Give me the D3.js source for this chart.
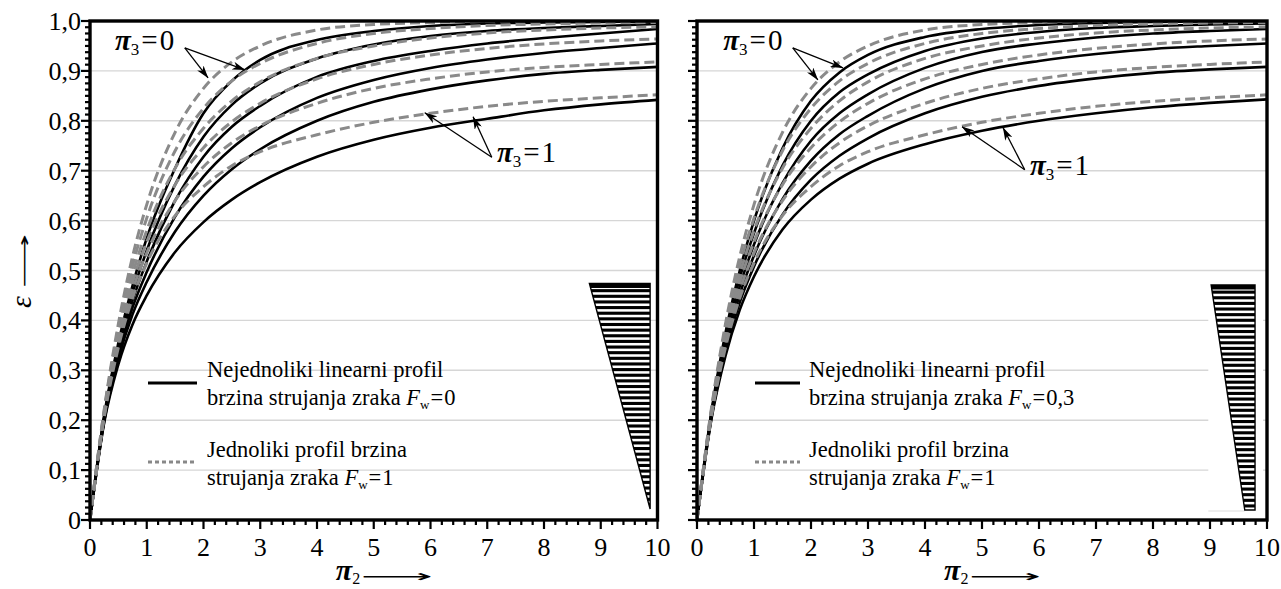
<!DOCTYPE html>
<html><head><meta charset="utf-8">
<script src="https://cdn.jsdelivr.net/npm/d3@7"></script>
<style>
body{margin:0;background:#fff}
svg{display:block}
</style>
</head><body>
<svg id="c" width="1281" height="589"></svg>
<script>
// ---------------- data ----------------
const pi2Grid = [0, 0.25, 0.5, 0.75, 1, 1.5, 2, 2.5, 3, 4, 5, 6, 7, 8, 9, 10];
const pi3Values = [0, 0.2, 0.4, 0.6, 0.8, 1];

// uniform velocity profile, F_w = 1 (gray dashed, same in both panels)
const uniformEps = [
  [0, .221, .393, .528, .632, .777, .865, .918, .950, .982, .993, .997, .999, 1.0, 1.0, 1.0],
  [0, .218, .383, .510, .605, .740, .825, .880, .915, .955, .975, .985, .991, .994, .996, .997],
  [0, .215, .373, .492, .580, .705, .785, .840, .878, .925, .950, .966, .976, .982, .986, .988],
  [0, .212, .364, .476, .557, .672, .746, .798, .835, .884, .913, .932, .945, .954, .960, .964],
  [0, .209, .355, .460, .535, .640, .708, .756, .790, .835, .865, .884, .898, .907, .913, .918],
  [0, .206, .346, .445, .515, .610, .668, .710, .738, .772, .797, .815, .829, .839, .846, .852]
];
// non-uniform linear profile, F_w = 0 (left panel, black solid)
const linearEpsFw0 = [
  [0, .210, .355, .470, .565, .705, .815, .880, .922, .962, .980, .990, .995, .997, .998, .999],
  [0, .207, .347, .455, .540, .672, .768, .832, .875, .925, .953, .970, .980, .986, .990, .994],
  [0, .204, .339, .440, .518, .640, .728, .788, .830, .888, .920, .940, .955, .966, .975, .984],
  [0, .201, .331, .426, .497, .608, .688, .745, .787, .846, .882, .906, .923, .936, .946, .955],
  [0, .198, .323, .412, .477, .578, .650, .703, .743, .800, .838, .863, .881, .894, .902, .908],
  [0, .195, .312, .392, .450, .537, .597, .642, .677, .728, .762, .786, .804, .821, .833, .842]
];
// non-uniform linear profile, F_w = 0,3 (right panel, black solid)
const linearEpsFw03 = [
  [0, .215, .375, .500, .600, .745, .840, .897, .932, .968, .984, .992, .996, .998, .999, .999],
  [0, .212, .365, .485, .575, .710, .800, .857, .893, .940, .965, .978, .986, .990, .993, .995],
  [0, .209, .356, .468, .552, .675, .760, .815, .853, .906, .938, .955, .967, .975, .980, .984],
  [0, .206, .347, .452, .530, .643, .720, .773, .810, .865, .900, .920, .934, .944, .950, .955],
  [0, .203, .338, .436, .508, .612, .682, .730, .765, .815, .848, .870, .885, .896, .903, .908],
  [0, .200, .329, .421, .488, .582, .642, .684, .714, .753, .780, .800, .815, .827, .836, .843]
];

const xTickValues = [0, 1, 2, 3, 4, 5, 6, 7, 8, 9, 10];
const xTickLabels = ["0", "1", "2", "3", "4", "5", "6", "7", "8", "9", "10"];
const yTickValues = [0, 0.1, 0.2, 0.3, 0.4, 0.5, 0.6, 0.7, 0.8, 0.9, 1.0];
const yTickLabels = ["0", "0,1", "0,2", "0,3", "0,4", "0,5", "0,6", "0,7", "0,8", "0,9", "1,0"];
const gridValues = [0.1, 0.2, 0.3, 0.4, 0.5, 0.6, 0.7, 0.8, 0.9];

const legendSolidText = "Nejednoliki linearni profil";
const legendSolidText2 = "brzina strujanja zraka ";
const legendDashText = "Jednoliki profil brzina";
const legendDashText2 = "strujanja zraka ";
const fwValues = ["0", "0,3"];

// velocity profile sketches (in data units: pi2, eps)
const profileLeft = [[8.80, 0.474], [9.87, 0.474], [9.87, 0.022]];
const profileRight = [[9.02, 0.471], [9.79, 0.471], [9.79, 0.020], [9.61, 0.020]];

// annotation anchors (data units)
const annotLeft = {
  p0: {label: [0.44, 0.942], start: [1.67, 0.946], tips: [[2.08, 0.886], [2.73, 0.902]]},
  p1: {label: [7.17, 0.717], start: [7.08, 0.727], tips: [[5.90, 0.816], [6.75, 0.808]]}
};
const annotRight = {
  p0: {label: [0.46, 0.942], start: [1.68, 0.946], tips: [[2.12, 0.882], [2.56, 0.906]]},
  p1: {label: [5.84, 0.691], start: [5.75, 0.702], tips: [[4.65, 0.788], [5.37, 0.786]]}
};

const SERIF = "'Liberation Serif', 'DejaVu Serif', serif";

// ---------------- drawing ----------------
const svg = d3.select("#c").attr("font-family", SERIF);
const defs = svg.append("defs");
defs.append("marker").attr("id", "ah").attr("viewBox", "0 0 13 8")
  .attr("refX", 12.5).attr("refY", 4).attr("markerWidth", 13).attr("markerHeight", 8)
  .attr("markerUnits", "userSpaceOnUse").attr("orient", "auto")
  .append("path").attr("d", "M0,0 L13,4 L0,8 L3.5,4 Z").attr("fill", "#000");

const yTop = 21, yBot = 520;
const y = d3.scaleLinear().domain([0, 1]).range([yBot, yTop]);

const panels = [
  {x0: 90, x1: 657.5, solid: linearEpsFw0, fw: fwValues[0], yLabels: true,
   legX0: 148, legX1: 197, legTextX: 207, profile: profileLeft, annot: annotLeft, gapRect: null},
  {x0: 697, x1: 1267, solid: linearEpsFw03, fw: fwValues[1], yLabels: false,
   legX0: 755, legX1: 800, legTextX: 809, profile: profileRight, annot: annotRight, gapRect: [8.97, 9.93]}
];

function serifText(sel) { return sel.attr("font-family", SERIF); }

panels.forEach((p, pi) => {
  const x = d3.scaleLinear().domain([0, 10]).range([p.x0, p.x1]);
  const g = svg.append("g");
  const clipId = "clip" + pi;
  defs.append("clipPath").attr("id", clipId).append("rect")
    .attr("x", p.x0).attr("y", yTop).attr("width", p.x1 - p.x0).attr("height", yBot - yTop);

  // grid
  g.selectAll(".grid").data(gridValues).join("line")
    .attr("x1", p.x0).attr("x2", p.x1).attr("y1", d => y(d)).attr("y2", d => y(d))
    .attr("stroke", "#d6d6d6").attr("stroke-width", 1.4);

  // legend
  const lg = g.append("g");
  lg.append("line").attr("x1", p.legX0).attr("x2", p.legX1).attr("y1", 383).attr("y2", 383)
    .attr("stroke", "#000").attr("stroke-width", 3.2);
  lg.append("line").attr("x1", p.legX0).attr("x2", p.legX1).attr("y1", 462).attr("y2", 462)
    .attr("stroke", "#888").attr("stroke-width", 3).attr("stroke-dasharray", "4,3");
  const lfs = 22.5;
  serifText(lg.append("text")).attr("x", p.legTextX).attr("y", 377).attr("font-size", lfs).text(legendSolidText);
  const t2 = serifText(lg.append("text")).attr("x", p.legTextX).attr("y", 405).attr("font-size", lfs);
  t2.append("tspan").text(legendSolidText2);
  t2.append("tspan").attr("font-style", "italic").text("F");
  t2.append("tspan").attr("font-size", 13).attr("dy", 4).text("w");
  t2.append("tspan").attr("dy", -4).attr("dx", 1).text("=" );
  t2.append("tspan").attr("dx", 1).text(p.fw);
  serifText(lg.append("text")).attr("x", p.legTextX).attr("y", 457).attr("font-size", lfs).text(legendDashText);
  const t4 = serifText(lg.append("text")).attr("x", p.legTextX).attr("y", 485).attr("font-size", lfs);
  t4.append("tspan").text(legendDashText2);
  t4.append("tspan").attr("font-style", "italic").text("F");
  t4.append("tspan").attr("font-size", 13).attr("dy", 4).text("w");
  t4.append("tspan").attr("dy", -4).attr("dx", 1).text("=");
  t4.append("tspan").attr("dx", 1).text("1");

  // profile sketch
  if (p.gapRect) {
    g.append("rect").attr("x", x(p.gapRect[0])).attr("width", x(p.gapRect[1]) - x(p.gapRect[0]))
      .attr("y", y(0.476)).attr("height", y(0.018) - y(0.476)).attr("fill", "#fff");
    g.append("line").attr("x1", x(p.gapRect[0])).attr("x2", x(p.profile[3][0]))
      .attr("y1", y(0.018)).attr("y2", y(0.018)).attr("stroke", "#dcdcdc").attr("stroke-width", 1.2);
  }
  const poly = p.profile.map(d => [x(d[0]), y(d[1])]);
  const pid = "prof" + pi;
  defs.append("clipPath").attr("id", pid).append("polygon").attr("points", poly.map(d => d.join(",")).join(" "));
  g.append("polygon").attr("points", poly.map(d => d.join(",")).join(" ")).attr("fill", "#fff");
  const topY = y(p.profile[0][1]), botY = y(p.profile[2][1]);
  const nStripes = 40;
  const period = (botY - topY) / nStripes;
  const minX = d3.min(poly, d => d[0]), maxX = d3.max(poly, d => d[0]);
  g.append("g").attr("clip-path", `url(#${pid})`).selectAll("rect").data(d3.range(nStripes)).join("rect")
    .attr("x", minX).attr("width", maxX - minX)
    .attr("y", i => topY + i * period).attr("height", i => i === 0 ? period * 0.8 : period * 0.55)
    .attr("fill", "#000");
  g.append("polygon").attr("points", poly.map(d => d.join(",")).join(" "))
    .attr("fill", "none").attr("stroke", "#000").attr("stroke-width", 1.4);

  // curves
  const line = d3.line().x((d, i) => x(pi2Grid[i])).y(d => y(d)).curve(d3.curveMonotoneX);
  const cg = g.append("g").attr("clip-path", `url(#${clipId})`);
  pi3Values.forEach((v, i) => {
    cg.append("path").attr("d", line(p.solid[i])).attr("fill", "none")
      .attr("stroke", "#000").attr("stroke-width", 2.6);
  });
  pi3Values.forEach((v, i) => {
    cg.append("path").attr("d", line(uniformEps[i])).attr("fill", "none")
      .attr("stroke", "#8a8a8a").attr("stroke-width", 3).attr("stroke-dasharray", "10,5");
  });

  // ticks
  const yMinor = d3.range(0, 80.5).map(k => k / 80);
  g.selectAll(".ytk").data(yMinor).join("line")
    .attr("x1", d => p.x0 - ((Math.round(d * 80) % 8 === 0) ? 9 : 5)).attr("x2", p.x0)
    .attr("y1", d => y(d)).attr("y2", d => y(d)).attr("stroke", "#000").attr("stroke-width", 2.2);
  const xMinor = d3.range(0, 50.5).map(k => k / 5);
  g.selectAll(".xtk").data(xMinor).join("line")
    .attr("x1", d => x(d)).attr("x2", d => x(d)).attr("y1", yBot)
    .attr("y2", d => yBot + ((Math.round(d * 5) % 5 === 0) ? 9 : 5))
    .attr("stroke", "#000").attr("stroke-width", 2.2);

  // frame
  g.append("rect").attr("x", p.x0).attr("y", yTop).attr("width", p.x1 - p.x0).attr("height", yBot - yTop)
    .attr("fill", "none").attr("stroke", "#000").attr("stroke-width", 3.4);

  // tick labels
  serifText(g.selectAll(".xl").data(xTickValues).join("text"))
    .attr("x", d => x(d)).attr("y", 556).attr("text-anchor", "middle").attr("font-size", 26)
    .text((d, i) => xTickLabels[i]);
  if (p.yLabels) {
    serifText(g.selectAll(".yl").data(yTickValues).join("text"))
      .attr("x", p.x0 - 9).attr("y", d => y(d) + 9).attr("text-anchor", "end").attr("font-size", 26)
      .text((d, i) => yTickLabels[i]);
  }

  // x axis title
  const xt = serifText(g.append("text")).attr("x", (p.x0 + p.x1) / 2 - 38).attr("y", 580).attr("font-size", 30);
  xt.append("tspan").attr("font-weight", "bold").attr("font-style", "italic").text("π");
  xt.append("tspan").attr("font-size", 16).attr("dy", 4).text("2");
  g.append("text").attr("x", (p.x0 + p.x1) / 2 - 13).attr("y", 582)
    .attr("font-family", "DejaVu Sans").attr("font-size", 17)
    .attr("textLength", 72).attr("lengthAdjust", "spacingAndGlyphs").text("⟶");

  // annotations
  [["p0", "0"], ["p1", "1"]].forEach(([k, val]) => {
    const a = p.annot[k];
    const t = serifText(g.append("text")).attr("x", x(a.label[0])).attr("y", y(a.label[1])).attr("font-size", 29);
    t.append("tspan").attr("font-weight", "bold").attr("font-style", "italic").text("π");
    t.append("tspan").attr("font-size", 17).attr("dy", 5).text("3");
    t.append("tspan").attr("dy", -5).attr("dx", 2).text("=");
    t.append("tspan").attr("dx", 2).text(val);
    a.tips.forEach(tp => {
      g.append("line").attr("x1", x(a.start[0])).attr("y1", y(a.start[1]))
        .attr("x2", x(tp[0])).attr("y2", y(tp[1]))
        .attr("stroke", "#000").attr("stroke-width", 1.3).attr("marker-end", "url(#ah)");
    });
  });
});

// y axis title (left panel)
const yt = svg.append("g").attr("transform", "translate(31,308) rotate(-90)");
serifText(yt.append("text")).attr("x", 0).attr("y", 0).attr("font-size", 30).attr("font-style", "italic").text("ε");
yt.append("text").attr("x", 20).attr("y", -1).attr("font-family", "DejaVu Sans").attr("font-size", 17)
  .attr("textLength", 54).attr("lengthAdjust", "spacingAndGlyphs").text("⟶");
</script>
</body></html>
